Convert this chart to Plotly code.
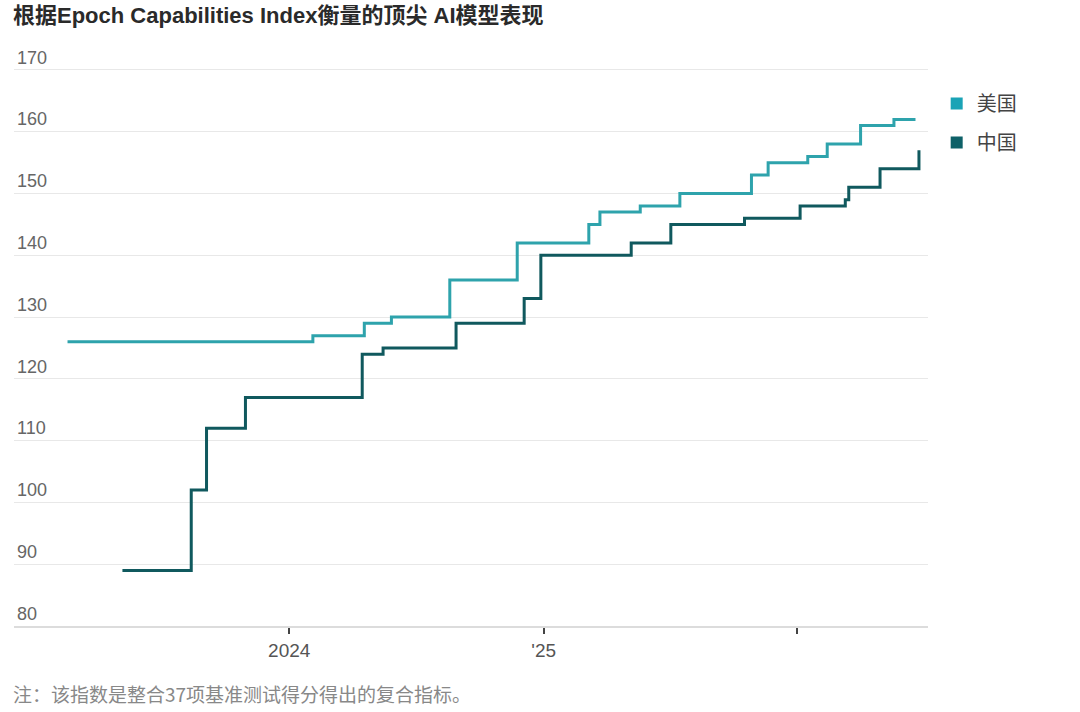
import plotly.graph_objects as go

# ---- data ----
us_dates = ["2023-02-16", "2024-02-04", "2024-04-18", "2024-05-27", "2024-08-19",
            "2024-11-24", "2025-03-07", "2025-03-23", "2025-05-20", "2025-07-16",
            "2025-10-27", "2025-11-20", "2026-01-16", "2026-02-13", "2026-04-02",
            "2026-05-20", "2026-06-20"]
us_values = [126, 127, 129, 130, 136, 142, 145, 147, 148, 150,
             153, 155, 156, 158, 161, 162, 162]

cn_dates = ["2023-05-06", "2023-08-13", "2023-09-04", "2023-10-30", "2024-04-15",
            "2024-05-15", "2024-08-28", "2024-12-04", "2024-12-28", "2025-05-07",
            "2025-07-03", "2025-10-17", "2026-01-05", "2026-03-11", "2026-03-16",
            "2026-04-30", "2026-06-25"]
cn_values = [89, 102, 112, 117, 124, 125, 129, 133, 140, 142,
             145, 146, 148, 149, 151, 154, 157]

y_ticks = [80, 90, 100, 110, 120, 130, 140, 150, 160, 170]
x_tick_vals = ["2024-01-01", "2025-01-01", "2026-01-01"]
x_tick_text = ["2024", "'25", ""]

series_names = ["美国", "中国"]
colors = ["#2ea3ac", "#10595e"]
legend_colors = ["#1aa3b6", "#0e6168"]

title_text = "根据Epoch Capabilities Index衡量的顶尖 AI模型表现"
note_text = "注：该指数是整合37项基准测试得分得出的复合指标。"

FONT = "Liberation Sans, Noto Sans CJK SC, sans-serif"
CJK = "Noto Sans CJK SC, sans-serif"

Y_TOP = 175.5
PLOT_BOTTOM = 626
PX_PER_UNIT = (626 - 70) / 90.0
PLOT_TOP = round(70 - (Y_TOP - 170) * PX_PER_UNIT)
PH = PLOT_BOTTOM - PLOT_TOP
PW = 1080 - 14 - 152

fig = go.Figure()
for dates, vals, col in [(us_dates, us_values, colors[0]), (cn_dates, cn_values, colors[1])]:
    fig.add_trace(go.Scatter(x=dates, y=vals, mode="lines", line=dict(color=col, width=3, shape="hv"),
                             showlegend=False, hoverinfo="x+y"))

for i, (name, col) in enumerate(zip(series_names, legend_colors)):
    fig.add_trace(go.Scatter(x=[None], y=[None], mode="markers", name=name,
                             marker=dict(symbol="square", size=12, color=col),
                             legendgroup=str(i), showlegend=True))

fig.update_layout(
    width=1080, height=712,
    margin=dict(l=14, r=152, t=PLOT_TOP, b=712 - PLOT_BOTTOM),
    paper_bgcolor="white", plot_bgcolor="white",
    font=dict(family=FONT, color="#555"),
    showlegend=True,
    legend=dict(x=1.0095, xanchor="left", y=(PLOT_BOTTOM - 84) / PH, yanchor="top",
                font=dict(size=20, color="#444", family=CJK),
                tracegroupgap=10, bgcolor="rgba(0,0,0,0)", itemclick=False),
    xaxis=dict(type="date", range=["2022-12-01", "2026-07-08"],
               tickmode="array", tickvals=x_tick_vals, ticktext=x_tick_text,
               ticks="outside", ticklen=6, tickwidth=1.5, tickcolor="#444",
               showgrid=False, showline=True, linecolor="#dcdcdc", linewidth=2,
               tickfont=dict(size=19, color="#555", family=FONT), zeroline=False),
    yaxis=dict(range=[80, Y_TOP], tickmode="array", tickvals=y_ticks,
               ticklabelposition="inside top", ticks="",
               showgrid=True, gridcolor="#e8e8e8", gridwidth=1,
               tickfont=dict(size=18, color="#666", family=FONT),
               zeroline=False, showline=False),
    annotations=[
        dict(text="<b>" + title_text + "</b>", xref="paper", yref="paper", x=-3 / PW,
             y=(PLOT_BOTTOM - 15) / PH,
             xanchor="left", yanchor="middle", showarrow=False,
             font=dict(size=22, color="#2a2a2a", family=FONT)),
        dict(text=note_text, xref="paper", yref="paper", x=-3 / PW, y=(PLOT_BOTTOM - 693) / PH,
             xanchor="left", yanchor="middle", showarrow=False,
             font=dict(size=19, color="#888", family=CJK)),
    ],
)

fig.write_html("out.html", post_script="document.body.style.margin='0';",
               config={"displayModeBar": False})
